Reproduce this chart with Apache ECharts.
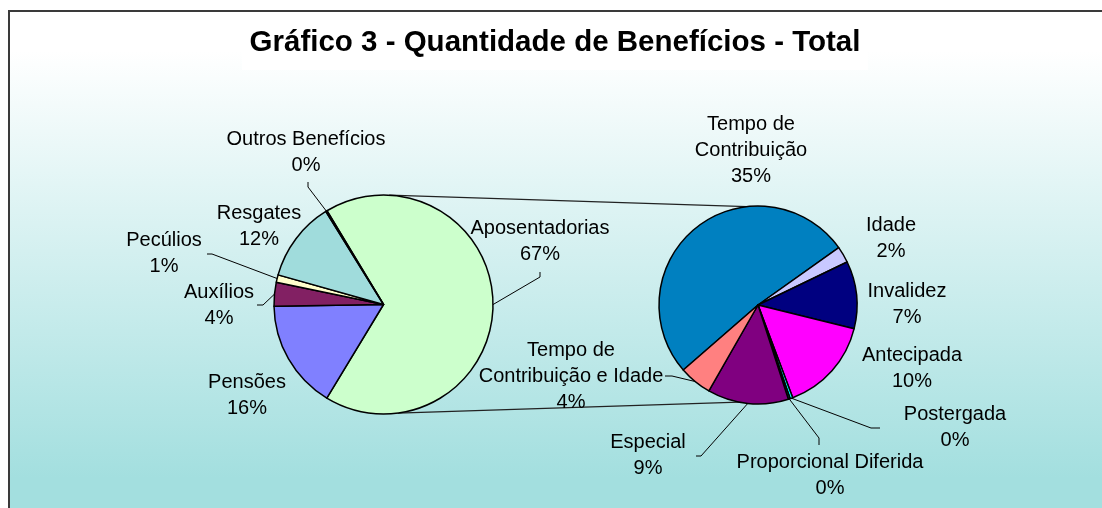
<!DOCTYPE html>
<html><head><meta charset="utf-8">
<script src="https://cdn.jsdelivr.net/npm/echarts@6/dist/echarts.min.js"></script>
<style>html,body{margin:0;padding:0;background:#fff}#c{width:1102px;height:508px}</style>
</head><body><div id="c"></div>
<script>
// ---- data ----
const chartTitle = 'Gráfico 3 - Quantidade de Benefícios - Total';
const leftNames = ['Aposentadorias', 'Pensões', 'Auxílios', 'Pecúlios', 'Resgates', 'Outros Benefícios'];
const leftValues = [67.3, 16.1, 3.5, 1.1, 11.8, 0.2];
const rightNames = ['Tempo de Contribuição', 'Idade', 'Invalidez', 'Antecipada', 'Postergada', 'Proporcional Diferida', 'Especial', 'Tempo de Contribuição e Idade'];
const rightValues = [34.7, 1.8, 7.4, 10.4, 0.3, 0.2, 8.9, 3.6];

// ---- layout / style ----
const FONT = '"Liberation Sans", Arial, sans-serif';
const L = { center: [383.5, 304.5], r: 109.5, start: 121.1 };
const R = { center: [758, 305], r: 99, start: 221 };
const leftColors = ['#ccffcc', '#8080ff', '#822063', '#ffffcc', '#a0dcdc', '#222222'];
const rightColors = ['#0080c0', '#c8c8ff', '#000080', '#ff00ff', '#00ffff', '#008080', '#800080', '#ff8080'];
const displayNames = {
  'Tempo de Contribuição': 'Tempo de\nContribuição',
  'Tempo de Contribuição e Idade': 'Tempo de\nContribuição e Idade'
};
const labelPos = {
  'Aposentadorias': { x: 540, y: 241, line: [[540, 277], [540, 272]] },
  'Pensões': { x: 247, y: 395 },
  'Auxílios': { x: 219, y: 305, line: [[263, 305], [257, 305]] },
  'Pecúlios': { x: 164, y: 253, line: [[212, 254], [207, 254]] },
  'Resgates': { x: 259, y: 226 },
  'Outros Benefícios': { x: 306, y: 152, line: [[308, 187], [308, 182]] },
  'Tempo de Contribuição': { x: 751, y: 150 },
  'Idade': { x: 891, y: 238 },
  'Invalidez': { x: 907, y: 304 },
  'Antecipada': { x: 912, y: 368 },
  'Postergada': { x: 955, y: 427, line: [[871, 428], [880, 428]] },
  'Proporcional Diferida': { x: 830, y: 475, line: [[819, 438], [819, 445]] },
  'Especial': { x: 648, y: 455, line: [[701, 456], [696, 456]] },
  'Tempo de Contribuição e Idade': { x: 571, y: 376, line: [[672, 376], [665, 376]] }
};
// connector angles (deg) on each pie: [left, right]
const connTop = [87, 96.5];
const connBottom = [-82.5, -101];

const total = +leftValues.reduce((a, b) => a + b, 0).toFixed(6);
function pct(v) { return Math.round(v * 100 / total); }
function pt(pie, deg) {
  const a = deg * Math.PI / 180;
  return [pie.center[0] + pie.r * Math.cos(a), pie.center[1] - pie.r * Math.sin(a)];
}
function edge(pie, values, i) {
  const sum = values.reduce((a, b) => a + b, 0);
  let cum = 0;
  for (let k = 0; k < i; k++) cum += values[k];
  return pt(pie, pie.start - (cum + values[i] / 2) / sum * 360);
}
function makeSeries(names, values, colors, pie) {
  return {
    type: 'pie', center: pie.center, radius: pie.r, startAngle: pie.start, clockwise: true,
    avoidLabelOverlap: false, animation: false,
    itemStyle: { borderColor: '#000', borderWidth: 1.5 },
    label: {
      show: true, position: 'outside', color: '#000', fontFamily: FONT, fontSize: 20, lineHeight: 26, align: 'center',
      formatter: p => (displayNames[p.name] || p.name) + '\n' + pct(p.value) + '%'
    },
    labelLine: { show: true, lineStyle: { color: '#000', width: 1 } },
    emphasis: { disabled: true },
    data: names.map((n, i) => ({ name: n, value: values[i], itemStyle: { color: colors[i] }, labelLine: { show: !!labelPos[n].line } })),
    labelLayout: function (params) {
      const i = params.dataIndex;
      const lp = labelPos[names[i]];
      const out = { x: lp.x, y: lp.y, align: 'center', verticalAlign: 'middle' };
      if (lp.line) out.labelLinePoints = [edge(pie, values, i), lp.line[0], lp.line[1]];
      return out;
    }
  };
}

const lt = pt(L, connTop[0]), rt = pt(R, connTop[1]);
const lb = pt(L, connBottom[0]), rb = pt(R, connBottom[1]);

const chart = echarts.init(document.getElementById('c'), null, { renderer: 'canvas' });
chart.setOption({
  backgroundColor: '#ffffff',
  animation: false,
  graphic: [
    { type: 'rect', z: -10, silent: true, shape: { x: 9, y: 11, width: 1093, height: 497 },
      style: { fill: new echarts.graphic.LinearGradient(0, 0, 0, 1, [
        { offset: 0, color: '#ffffff' }, { offset: 0.08, color: '#ffffff' },
        { offset: 0.94, color: '#a3dfdf' }, { offset: 1, color: '#a3dfdf' }]) } },
    { type: 'rect', z: -9, silent: true, shape: { x: 242, y: 14, width: 626, height: 56 }, style: { fill: '#ffffff' } },
    { type: 'line', z: 5, silent: true, shape: { x1: 9, y1: 10, x2: 9, y2: 508 }, style: { stroke: '#3a3a3a', lineWidth: 2 } },
    { type: 'line', z: 5, silent: true, shape: { x1: 8, y1: 11, x2: 1102, y2: 11 }, style: { stroke: '#3a3a3a', lineWidth: 2 } },
    { type: 'line', z: 1, silent: true, shape: { x1: lt[0], y1: lt[1], x2: rt[0], y2: rt[1] }, style: { stroke: '#222', lineWidth: 1.3 } },
    { type: 'line', z: 1, silent: true, shape: { x1: lb[0], y1: lb[1], x2: rb[0], y2: rb[1] }, style: { stroke: '#222', lineWidth: 1.3 } },
    { type: 'text', z: 6, silent: true, x: 555, y: 43,
      style: { text: chartTitle, fill: '#000', fontFamily: FONT, fontWeight: 'bold', fontSize: 29.5, align: 'center', verticalAlign: 'middle' } }
  ],
  series: [
    makeSeries(leftNames, leftValues, leftColors, L),
    makeSeries(rightNames, rightValues, rightColors, R)
  ]
});
</script>
</body></html>
